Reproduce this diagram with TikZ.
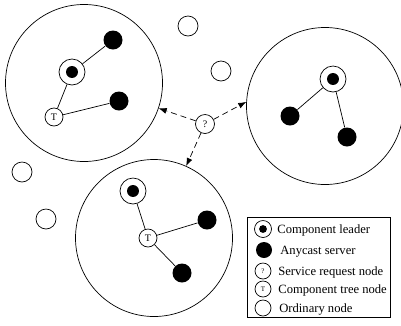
\documentclass[tikz,border=0pt]{standalone}
\usepackage{fontspec}
\setmainfont{Liberation Serif}
\usetikzlibrary{arrows.meta}

\begin{document}
\begin{tikzpicture}[x=1pt,y=-1pt,line width=.7pt,
  area/.style={circle,draw,minimum size=157pt,inner sep=0},
  cleader/.style={circle,draw,fill=white,minimum size=#1,inner sep=0,
    path picture={\fill[black] (path picture bounding box.center) circle (#1*.23);}},
  cleader/.default=26pt,
  server/.style={circle,fill,minimum size=#1,inner sep=0},
  server/.default=19pt,
  tnode/.style={circle,draw,fill=white,minimum size=#1,inner sep=0,
    font=\fontsize{10}{10}\selectfont},
  tnode/.default=18pt,
  qnode/.style={circle,draw,fill=white,minimum size=#1,inner sep=0,
    font=\fontsize{10}{10}\selectfont},
  qnode/.default=19pt,
  onode/.style={circle,draw,minimum size=#1,inner sep=0},
  onode/.default=20pt,
  link/.style={dash pattern=on 6pt off 4pt,-{Latex[length=8pt,width=6pt]}},
  lbl/.style={anchor=west,inner sep=0,text height=8.4pt,text depth=0pt,
    font=\fontsize{12.6}{14}\selectfont}]
\useasboundingbox (0,0) rectangle (401,325);

\node[area] (c1) at (84,83) {};
\node[area] (c2) at (325,106) {};
\node[area] (c3) at (154,238) {};

\node[cleader] (l1) at (72,72) {};
\node[server] (s1) at (113,40) {};
\node[server] (s2) at (119,101) {};
\node[tnode] (t1) at (54,117) {T};
\draw (l1) -- (s1) (l1) -- (t1) (t1) -- (s2);

\node[cleader] (l2) at (333,79) {};
\node[server] (s3) at (290,116) {};
\node[server] (s4) at (347,137) {};
\draw (l2) -- (s3) (l2) -- (s4);

\node[cleader] (l3) at (133,191) {};
\node[tnode] (t3) at (148,238) {T};
\node[server] (s5) at (207,220) {};
\node[server] (s6) at (182,273) {};
\draw (l3) -- (t3) (t3) -- (s5) (t3) -- (s6);

\foreach \p [count=\i] in {(188,26),(221,71),(22,172),(46,219)}
  \node[onode] (o\i) at \p {};

\node[qnode] (q) at (205,124) {?};
\draw[link] (q) -- (c1);
\draw[link] (q) -- (c2.177);
\draw[link] (q) -- (c3);

\draw (247,217) rectangle (390,317);
\node[cleader=17pt] (k1) at (263,229) {};
\node[server=16pt] (k2) at (264,250) {};
\node[qnode=16pt,font=\fontsize{7}{7}\selectfont] (k3) at (263,271) {?};
\node[tnode=16pt,font=\fontsize{7}{7}\selectfont] (k4) at (263,289) {T};
\node[onode=16pt] (k5) at (263,308) {};
\foreach \x/\y/\t in {277/229/Component leader,280/250/Anycast server,
    278/271/Service request node,278/289/Component tree node,279/308/Ordinary node}
  \node[lbl] at (\x,\y) {\t};
\end{tikzpicture}
\end{document}
